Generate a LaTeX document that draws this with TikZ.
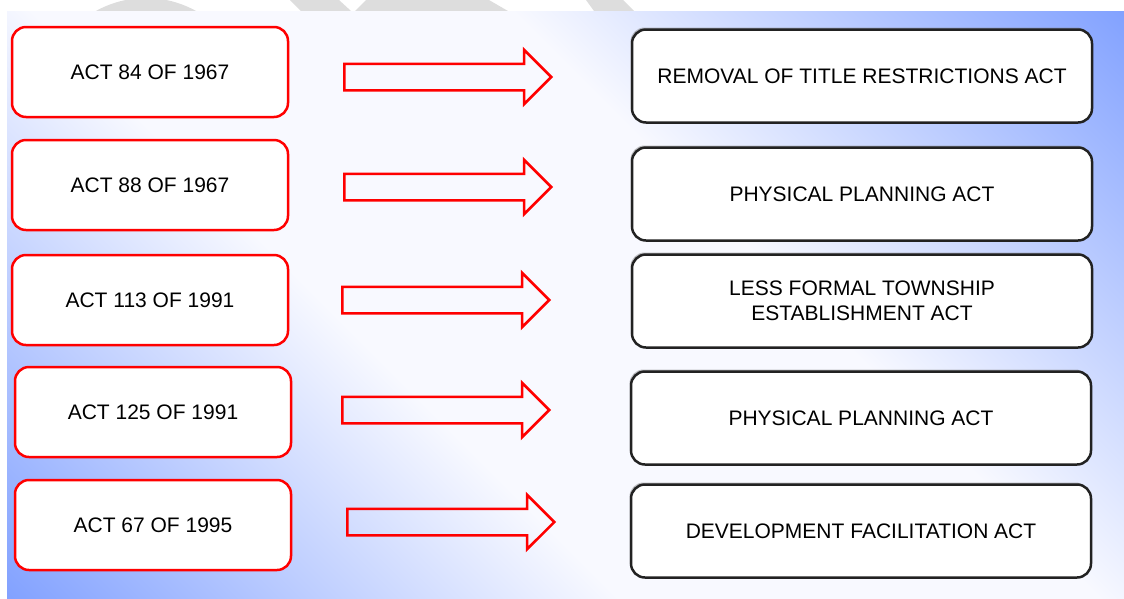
\documentclass[tikz,border=0pt]{standalone}
\usepackage{fontspec}
\setmainfont{Liberation Sans}
\usepackage{tikz}
\usetikzlibrary{calc}
\usetikzlibrary{shapes.arrows}
\usetikzlibrary{shadows}
\definecolor{cornflower}{RGB}{128, 160, 255}
\definecolor{haze}{RGB}{248, 249, 255}
\definecolor{scarlet}{RGB}{255, 0, 0}
\definecolor{charcoal}{RGB}{34, 34, 34}
\definecolor{mist}{RGB}{221, 221, 221}

\pgfdeclarehorizontalshading{panelshade}{100bp}{color(0bp)=(cornflower); color(14bp)=(cornflower); color(40bp)=(haze); color(60bp)=(haze); color(86bp)=(cornflower); color(100bp)=(cornflower)}

\tikzset{
    actbox/.style={draw=scarlet, fill=white, line width=2.5pt, rounded corners=14pt,
        minimum width=276pt, minimum height=90pt, inner sep=0pt,
        font=\fontsize{21}{25}\selectfont},
    lawbox/.style={draw=charcoal, fill=white, line width=2.5pt, rounded corners=14pt,
        minimum width=460pt, minimum height=93pt, inner sep=0pt, align=center,
        font=\fontsize{21}{25}\selectfont,
        drop shadow={shadow xshift=-1.5pt, shadow yshift=2pt, opacity=0.5}},
    hollowarrow/.style={single arrow, draw=scarlet, line width=2.5pt, anchor=tail,
        minimum height=207pt, minimum width=52pt, single arrow head extend=14pt,
        inner xsep=0pt, inner ysep=12pt}
}

\begin{document}
\begin{tikzpicture}[x=1pt, y=-1pt]
            \useasboundingbox (0,0) rectangle (1124,598);
            % watermark left in the top margin
            \fill[mist] (146,101) circle (103);
            \fill[mist] (290,0) -- (339,0) -- (351,11) -- (301,11) -- cycle;
            \fill[mist] (366,0) -- (489,0) -- (508,11) -- (355,11) -- cycle;
            \fill[mist] (586,0) -- (623,0) -- (634,11) -- (594,11) -- cycle;
            \shade[shading=panelshade, shading angle=45] (7,11) rectangle (1124,598);

            \node[actbox] (act84)  at (150, 72)  {ACT 84 OF 1967};
            \node[actbox] (act88)  at (150,185)  {ACT 88 OF 1967};
            \node[actbox] (act113) at (150,300)  {ACT 113 OF 1991};
            \node[actbox] (act125) at (153,412)  {ACT 125 OF 1991};
            \node[actbox] (act67)  at (153,525)  {ACT 67 OF 1995};

            \node[hollowarrow] (arr84)  at (343, 77) {};
            \node[hollowarrow] (arr88)  at (343,187) {};
            \node[hollowarrow] (arr113) at (341,300) {};
            \node[hollowarrow] (arr125) at (341,410) {};
            \node[hollowarrow] (arr67)  at (346,522) {};

            \node[lawbox] (removal)   at (862, 76)  {REMOVAL OF TITLE RESTRICTIONS ACT};
            \node[lawbox] (planning)  at (862,194)  {PHYSICAL PLANNING ACT};
            \node[lawbox] (township)  at (862,301)  {LESS FORMAL TOWNSHIP\\ESTABLISHMENT ACT};
            \node[lawbox] (planning2) at (861,418)  {PHYSICAL PLANNING ACT};
            \node[lawbox] (facilitate) at (861,531) {DEVELOPMENT FACILITATION ACT};
\end{tikzpicture}
\end{document}
